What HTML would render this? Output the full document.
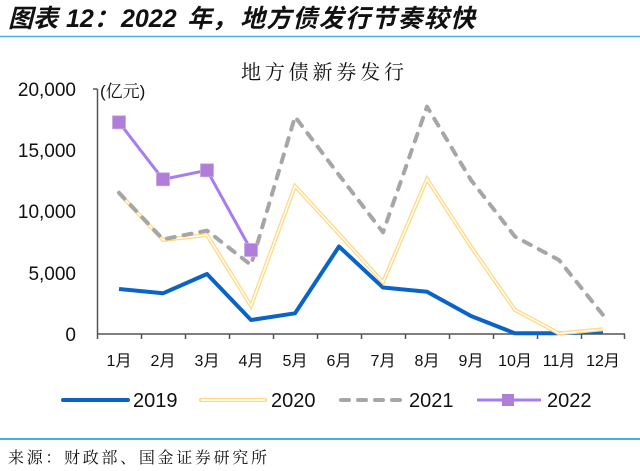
<!DOCTYPE html>
<html><head><meta charset="utf-8"><style>
html,body{margin:0;padding:0;background:#fff;}
svg{display:block;}
</style></head><body>
<svg width="640" height="471" viewBox="0 0 640 471" xmlns="http://www.w3.org/2000/svg">
<rect width="640" height="471" fill="#fff"/>
<!-- Title -->
<g font-family="'Liberation Sans','Noto Sans CJK SC',sans-serif" font-weight="bold" font-style="italic" font-size="25" fill="#111">
<text x="8" y="27">图表</text>
<text x="66" y="27">12：</text>
<text x="121" y="27">2022</text>
<text x="187" y="27">年，</text>
<text x="240" y="27" textLength="235" lengthAdjust="spacing">地方债发行节奏较快</text>
</g>
<line x1="0" y1="36.5" x2="640" y2="36.5" stroke="#3db2e8" stroke-width="1.5"/>

<!-- chart title -->
<text x="241" y="79" font-family="'Noto Serif CJK SC','Noto Sans CJK SC',serif" font-size="20" fill="#111" textLength="163" lengthAdjust="spacing">地方债新券发行</text>

<!-- Y labels -->
<g font-family="'Liberation Sans',sans-serif" font-size="19" fill="#111" text-anchor="end">
<text x="76" y="96">20,000</text>
<text x="76" y="157">15,000</text>
<text x="76" y="218">10,000</text>
<text x="76" y="280">5,000</text>
<text x="76" y="341">0</text>
</g>
<text x="100" y="97" font-family="'Liberation Sans','Noto Serif CJK SC',serif" font-size="17" fill="#111">(亿元)</text>

<!-- axes -->
<g stroke="#555" stroke-width="1.5" fill="none">
<line x1="97.5" y1="89" x2="97.5" y2="334"/>
<line x1="93" y1="89" x2="97.5" y2="89"/>
<line x1="97" y1="334" x2="625" y2="334"/>
<line x1="97.5" y1="334" x2="97.5" y2="339"/>
<line x1="141.5" y1="334" x2="141.5" y2="339"/>
<line x1="185.5" y1="334" x2="185.5" y2="339"/>
<line x1="229.5" y1="334" x2="229.5" y2="339"/>
<line x1="273.5" y1="334" x2="273.5" y2="339"/>
<line x1="317.5" y1="334" x2="317.5" y2="339"/>
<line x1="361.5" y1="334" x2="361.5" y2="339"/>
<line x1="405.5" y1="334" x2="405.5" y2="339"/>
<line x1="449.5" y1="334" x2="449.5" y2="339"/>
<line x1="493.5" y1="334" x2="493.5" y2="339"/>
<line x1="537.5" y1="334" x2="537.5" y2="339"/>
<line x1="581.5" y1="334" x2="581.5" y2="339"/>
<line x1="624.5" y1="334" x2="624.5" y2="339"/>
</g>

<!-- X labels -->
<g font-family="'Liberation Sans','Noto Sans CJK SC',sans-serif" font-size="16" fill="#111" text-anchor="middle">
<text x="119" y="366">1月</text>
<text x="163" y="366">2月</text>
<text x="207" y="366">3月</text>
<text x="251" y="366">4月</text>
<text x="295" y="366">5月</text>
<text x="339" y="366">6月</text>
<text x="383" y="366">7月</text>
<text x="427" y="366">8月</text>
<text x="471" y="366">9月</text>
<text x="515" y="366">10月</text>
<text x="559" y="366">11月</text>
<text x="603" y="366">12月</text>
</g>

<!-- 2019 -->
<polyline fill="none" stroke="#0a64c8" stroke-width="4" stroke-linejoin="round"
 points="119,289 163,293.3 207,274 251,320 295,313.3 339,246.5 383,287.5 427,291.7 471,316 515,333.3 559,333.3 603,331.7"/>
<!-- 2020 -->
<polyline fill="none" stroke="#ffd984" stroke-width="4" stroke-linejoin="miter"
 points="119,193.1 163,240 207,235 251,306 295,186 339,234 383,282.3 427,179 471,246.7 515,310 559,333.4 603,329.3"/>
<polyline fill="none" stroke="#fff" stroke-width="1.4" stroke-linejoin="miter"
 points="119,193.1 163,240 207,235 251,306 295,186 339,234 383,282.3 427,179 471,246.7 515,310 559,333.4 603,329.3"/>
<!-- 2021 -->
<polyline fill="none" stroke="#a6a6a6" stroke-width="4" stroke-linecap="round" stroke-linejoin="round" stroke-dasharray="8 9"
 points="119,192.8 163,239.3 207,230.6 251,265 295,116.7 339,175 383,232.3 427,106.6 471,180 515,236.6 559,260 603,315"/>
<!-- 2022 -->
<polyline fill="none" stroke="#a67cf2" stroke-width="3"
 points="119,122.3 163,179.3 207,170.3 251,250"/>
<g fill="#b07ed8" stroke="#c9a6e6" stroke-width="0.8">
<rect x="112.5" y="115.8" width="13" height="13"/>
<rect x="156.5" y="172.8" width="13" height="13"/>
<rect x="200.5" y="163.8" width="13" height="13"/>
<rect x="244.5" y="243.5" width="13" height="13"/>
</g>

<!-- Legend -->
<line x1="63" y1="400" x2="128" y2="400" stroke="#0a64c8" stroke-width="4" stroke-linecap="round"/>
<line x1="201" y1="400" x2="265" y2="400" stroke="#ffd984" stroke-width="4" stroke-linecap="round"/>
<line x1="201" y1="400" x2="265" y2="400" stroke="#fff" stroke-width="1.4"/>
<line x1="341" y1="400" x2="404" y2="400" stroke="#a6a6a6" stroke-width="4" stroke-linecap="round" stroke-dasharray="8 9"/>
<line x1="477" y1="400" x2="541" y2="400" stroke="#a67cf2" stroke-width="3"/>
<rect x="502" y="394" width="12" height="12" fill="#b07ed8"/>
<g font-family="'Liberation Sans',sans-serif" font-size="20" fill="#111">
<text x="133" y="407">2019</text>
<text x="271" y="407">2020</text>
<text x="409" y="407">2021</text>
<text x="547" y="407">2022</text>
</g>

<line x1="0" y1="439" x2="640" y2="439" stroke="#3db2e8" stroke-width="2"/>
<text x="8" y="463" font-family="'Noto Serif CJK SC','Noto Sans CJK SC',serif" font-size="16" fill="#111" textLength="259" lengthAdjust="spacing">来源：财政部、国金证券研究所</text>
</svg>
</body></html>
